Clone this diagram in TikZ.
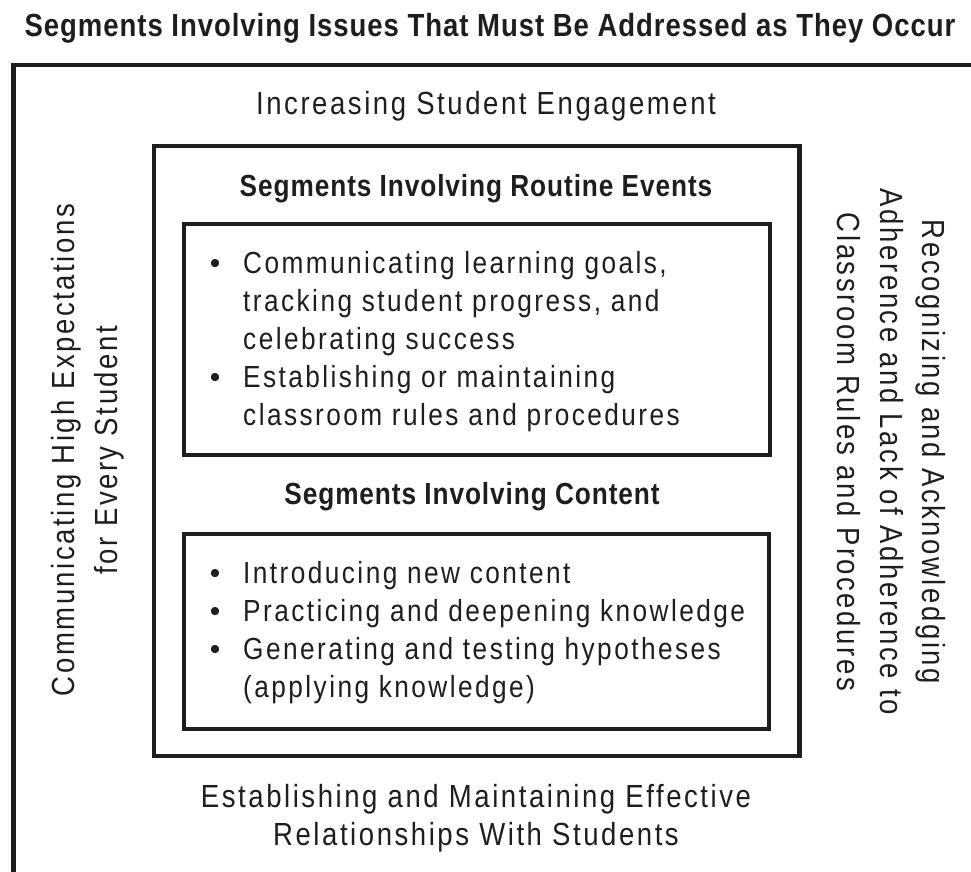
\documentclass[tikz,border=0pt]{standalone}
\usepackage{fontspec}
\setmainfont{Liberation Sans}
\newfontfamily\condfont[FakeStretch=0.86, LetterSpace=8]{Liberation Sans}
\newfontfamily\condbold[FakeStretch=0.86, LetterSpace=3, UprightFont=* Bold]{Liberation Sans}
\definecolor{ink}{HTML}{1E1E1E}
\tikzset{
  frame/.style={draw=ink, line width=4.5pt, inner sep=0pt, fill=none},
  outerlbl/.style={font=\condfont\fontsize{32}{38}\selectfont, text=ink, inner sep=0pt},
  bodytxt/.style={font=\condfont\fontsize{30.5}{38}\selectfont, text=ink, inner sep=0pt, anchor=base west},
  bul/.style={font=\fontsize{30}{38}\selectfont, text=ink, inner sep=0pt, anchor=base},
  headlbl/.style={font=\condbold\fontsize{30.5}{34}\selectfont, text=ink, inner sep=0pt, anchor=base},
}
\begin{document}
\begin{tikzpicture}[x=1pt,y=-1pt]
\useasboundingbox (0,0) rectangle (971,871);
\begin{scope}
\clip (0,0) rectangle (971,871);
\draw[frame] (13.5,900) |- (1000,65);
\end{scope}
% title
\node[headlbl, font=\condbold\fontsize{32}{34}\selectfont] (title) at (490,36) {Segments Involving Issues That Must Be Addressed as They Occur};
% outer labels
\node[outerlbl, anchor=base] (top) at (486,114) {Increasing Student Engagement};
\node[outerlbl, anchor=base] (bot1) at (476,807) {Establishing and Maintaining Effective};
\node[outerlbl, anchor=base] (bot2) at (476,845) {Relationships With Students};
\node[outerlbl, anchor=base, rotate=90] (left1) at (74,450) {Communicating High Expectations};
\node[outerlbl, anchor=base, rotate=90] (left2) at (117,450) {for Every Student};
\node[outerlbl, anchor=base, rotate=-90] (right1) at (922,452) {Recognizing and Acknowledging};
\node[outerlbl, anchor=base, rotate=-90] (right2) at (880,452) {Adherence and Lack of Adherence to};
\node[outerlbl, anchor=base, rotate=-90] (right3) at (837,452) {Classroom Rules and Procedures};
% boxes
\node[frame, minimum width=645.5pt, minimum height=610pt] (mid) at (476.75,451) {};
\node[frame, minimum width=586pt, minimum height=231pt] (routine) at (477,339.5) {};
\node[frame, minimum width=585pt, minimum height=195pt] (content) at (476.5,631.5) {};
% headings
\node[headlbl] (h1) at (476,196) {Segments Involving Routine Events};
\node[headlbl] (h2) at (472,504) {Segments Involving Content};
% routine items
\node[bul] (b1) at (215,273) {•};
\node[bodytxt] (r1) at (243,273) {Communicating learning goals,};
\node[bodytxt] (r2) at (243,311) {tracking student progress, and};
\node[bodytxt] (r3) at (243,349) {celebrating success};
\node[bul] (b2) at (215,387) {•};
\node[bodytxt] (r4) at (243,387) {Establishing or maintaining};
\node[bodytxt] (r5) at (243,425) {classroom rules and procedures};
% content items
\node[bul] (b3) at (215,583) {•};
\node[bodytxt] (c1) at (243,583) {Introducing new content};
\node[bul] (b4) at (215,621) {•};
\node[bodytxt] (c2) at (243,621) {Practicing and deepening knowledge};
\node[bul] (b5) at (215,659) {•};
\node[bodytxt] (c3) at (243,659) {Generating and testing hypotheses};
\node[bodytxt] (c4) at (243,697) {(applying knowledge)};
\end{tikzpicture}
\end{document}
